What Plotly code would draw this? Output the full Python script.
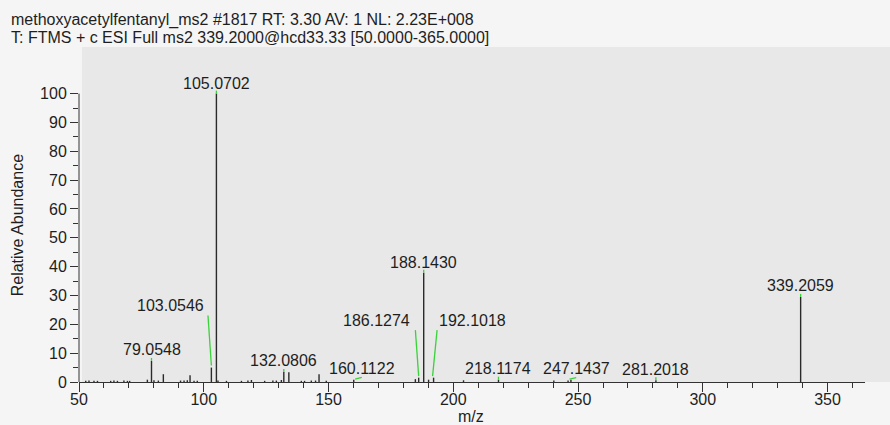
import numpy as np
import plotly.graph_objects as go

# ---- data ----
title_line1 = "methoxyacetylfentanyl_ms2 #1817 RT: 3.30 AV: 1 NL: 2.23E+008"
title_line2 = "T: FTMS + c ESI Full ms2 339.2000@hcd33.33 [50.0000-365.0000]"

labeled_mz = [79.0548, 103.0546, 105.0702, 132.0806, 160.1122, 186.1274,
              188.1430, 192.1018, 218.1174, 247.1437, 281.2018, 339.2059]
labeled_int = [7.3, 5.0, 100.0, 3.5, 0.8, 1.5,
               37.9, 1.5, 0.8, 0.8, 0.6, 29.5]

other_mz = [52.7, 54.0, 56.0, 57.4, 62.7, 64.0, 65.4, 68.0, 69.4, 70.3,
            77.4, 80.05, 81.8, 83.8, 90.7, 92.1, 93.4, 94.5, 96.1, 97.4,
            105.7, 109.1, 115.1, 117.7, 119.1, 124.4, 127.7, 129.1, 131.1,
            134.1, 139.1, 140.4, 143.1, 144.8, 146.2, 149.1, 184.8, 190.1,
            204.1, 240.3, 246.0]
other_int = [0.4, 0.5, 0.4, 0.4, 0.4, 0.5, 0.4, 0.5, 0.4, 0.4,
             0.8, 0.6, 0.5, 2.7, 0.5, 0.5, 0.6, 2.3, 0.4, 0.4,
             0.5, 0.4, 0.4, 0.5, 0.7, 0.4, 0.5, 0.5, 0.7,
             3.4, 0.4, 0.4, 0.5, 0.5, 2.7, 0.4, 1.0, 0.8,
             0.6, 0.5, 0.5]

x_range = [50, 365]
x_ticks = [50, 100, 150, 200, 250, 300, 350]
y_ticks = [0, 10, 20, 30, 40, 50, 60, 70, 80, 90, 100]
y_minor = [5, 15, 25, 35, 45, 55, 65, 75, 85, 95]

# ---- label placement (pixel offsets from peak top) ----
# xshift, yshift for text ; leader segment (x0,y0,x1,y1) in px relative to peak top
label_style = {
    79.0548:  (0, 1.3, (0, 0, 0, 3)),
    103.0546: (-41, 52, (0, 2, -3.4, 52)),
    105.0702: (0, -0.4, (0, 0, 0, 3)),
    132.0806: (0, 1.2, (0, 0, 0, 3)),
    160.1122: (8, 0.9, (1.4, 0.5, 8, 2.2)),
    186.1274: (-42, 47, (0, 1.5, -3.3, 47.5)),
    188.1430: (0, -0.4, (0, 0, 0, 3)),
    192.1018: (39, 47, (-1, 1.5, 3.5, 47.5)),
    218.1174: (0, 0.7, (0, 0, 0, 3)),
    247.1437: (6, 0.7, (-1.4, 0.5, 5.3, 2.0)),
    281.2018: (0, 0.7, (0, 0, 0, 3)),
    339.2059: (0, 0.6, (0, 0, 0, 3)),
}

FONT = "Liberation Sans, Arial, sans-serif"
TXT = "#1e1e1e"
GREEN = "#3ad23a"
AX = "#333333"

all_mz = np.array(labeled_mz + other_mz)
all_int = np.array(labeled_int + other_int)
order = np.argsort(all_mz)
all_mz, all_int = all_mz[order], all_int[order]

xs, ys = [], []
for m, h in zip(all_mz, all_int):
    xs += [m, m, None]
    ys += [0, h, None]

fig = go.Figure()
fig.add_trace(go.Scatter(x=xs, y=ys, mode="lines",
                         line=dict(color="#2a2a2a", width=1.4),
                         hoverinfo="skip", showlegend=False))

W, H = 890, 425
ml, mr, mt, mb = 79, 25, 47, 43
pw = W - ml - mr
ph = H - mt - mb

shapes = []
# gray plotting panel
shapes.append(dict(type="rect", xref="paper", yref="paper",
                   x0=3 / pw, x1=(W - ml) / pw, y0=0, y1=1,
                   fillcolor="#e8e8e8", line=dict(width=0), layer="below"))
# y-axis line (0..100 only)
shapes.append(dict(type="line", xref="paper", yref="y", x0=0, x1=0,
                   y0=0, y1=100, line=dict(color=AX, width=1), layer="above"))

annotations = []
for m, h in zip(labeled_mz, labeled_int):
    dx, dy, (lx0, ly0, lx1, ly1) = label_style[m]
    annotations.append(dict(x=m, y=h, xref="x", yref="y", text=f"{m:.4f}",
                            showarrow=False, xanchor="center", yanchor="bottom",
                            xshift=dx, yshift=dy,
                            font=dict(family=FONT, size=16, color=TXT)))
    shapes.append(dict(type="line", xref="x", yref="y",
                       xsizemode="pixel", ysizemode="pixel",
                       xanchor=m, yanchor=h,
                       x0=lx0, y0=ly0, x1=lx1, y1=ly1,
                       line=dict(color=GREEN, width=1.3), layer="above"))

annotations.append(dict(x=(9 - ml) / pw, y=1 + 15.9 / ph, xref="paper", yref="paper",
                        text=title_line1, showarrow=False, xanchor="left", yanchor="bottom",
                        font=dict(family=FONT, size=16, color=TXT)))
annotations.append(dict(x=(9 - ml) / pw, y=1 - 0.7 / ph, xref="paper", yref="paper",
                        text=title_line2, showarrow=False, xanchor="left", yanchor="bottom",
                        font=dict(family=FONT, size=16, color=TXT)))
annotations.append(dict(x=(18.3 - ml) / pw, y=(H - mb - 225) / ph, xref="paper", yref="paper",
                        text="Relative Abundance", textangle=-90, showarrow=False,
                        xanchor="center", yanchor="middle",
                        font=dict(family=FONT, size=16, color=TXT)))
annotations.append(dict(x=(471 - ml) / pw, y=(H - mb - 416) / ph, xref="paper", yref="paper",
                        text="m/z", showarrow=False, xanchor="center", yanchor="middle",
                        font=dict(family=FONT, size=16, color=TXT)))

fig.update_layout(
    width=W, height=H,
    margin=dict(l=ml, r=mr, t=mt, b=mb, pad=0),
    paper_bgcolor="#f5f5f5", plot_bgcolor="rgba(0,0,0,0)",
    shapes=shapes, annotations=annotations,
    xaxis=dict(range=x_range, tickmode="array", tickvals=x_ticks,
               ticks="outside", ticklen=9, tickwidth=1, tickcolor=AX,
               ticklabelstandoff=-6,
               showline=True, linecolor=AX, linewidth=1,
               showgrid=False, zeroline=False,
               tickfont=dict(family=FONT, size=16, color=TXT),
               minor=dict(dtick=10, tick0=0, ticks="outside", ticklen=5,
                          tickwidth=1, tickcolor=AX, showgrid=False),
               fixedrange=True),
    yaxis=dict(range=[0, ph / 2.884], tickmode="array", tickvals=y_ticks,
               ticks="outside", ticklen=8, tickwidth=1, tickcolor=AX,
               showline=False, showgrid=False, zeroline=False,
               tickfont=dict(family=FONT, size=16, color=TXT),
               minor=dict(tickmode="array", tickvals=y_minor, ticks="outside",
                          ticklen=5, tickwidth=1, tickcolor=AX, showgrid=False),
               fixedrange=True),
    font=dict(family=FONT, size=16, color=TXT),
    showlegend=False,
)

fig.write_html("out.html")
